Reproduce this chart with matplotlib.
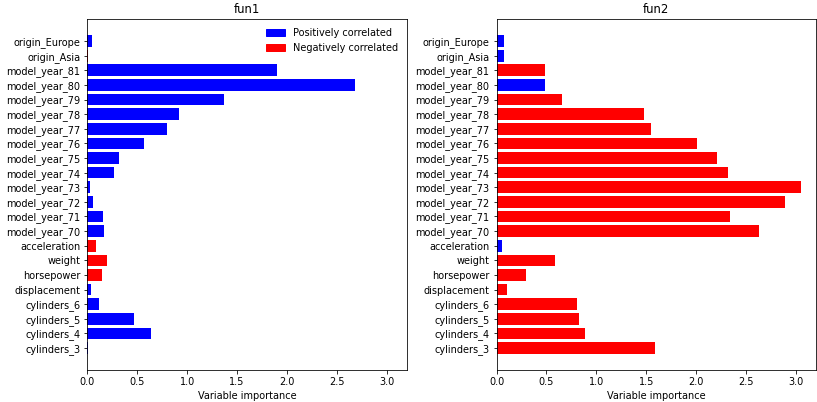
# Variable importance, two models side by side
import matplotlib
matplotlib.use('Agg')
import matplotlib.pyplot as plt
from matplotlib.patches import Patch

plt.rcParams['font.size'] = 9.7

features = ['cylinders_3', 'cylinders_4', 'cylinders_5', 'cylinders_6',
            'displacement', 'horsepower', 'weight', 'acceleration',
            'model_year_70', 'model_year_71', 'model_year_72', 'model_year_73',
            'model_year_74', 'model_year_75', 'model_year_76', 'model_year_77',
            'model_year_78', 'model_year_79', 'model_year_80', 'model_year_81',
            'origin_Asia', 'origin_Europe']

# fun1
imp1 = [0.003, 0.637, 0.467, 0.117, 0.037, 0.147, 0.20, 0.087,
        0.167, 0.157, 0.057, 0.027, 0.267, 0.317, 0.568, 0.795,
        0.92, 1.37, 2.68, 1.90, 0.004, 0.044]
pos1 = [1, 1, 1, 1, 1, 0, 0, 0,
        1, 1, 1, 1, 1, 1, 1, 1,
        1, 1, 1, 1, 0, 1]

# fun2
imp2 = [1.59, 0.888, 0.828, 0.808, 0.107, 0.297, 0.588, 0.057,
        2.63, 2.34, 2.89, 3.05, 2.32, 2.21, 2.01, 1.55,
        1.48, 0.658, 0.488, 0.488, 0.077, 0.077]
pos2 = [0, 0, 0, 0, 0, 0, 0, 1,
        0, 0, 0, 0, 0, 0, 0, 0,
        0, 0, 1, 0, 1, 1]

fig, axes = plt.subplots(1, 2, figsize=(817/72, 402/72), dpi=72, sharex=True)
fig.subplots_adjust(left=0.107, right=0.999, top=0.952, bottom=0.08, wspace=0.28)

for ax, imp, pos, title in [(axes[0], imp1, pos1, 'fun1'), (axes[1], imp2, pos2, 'fun2')]:
    colors = ['blue' if p else 'red' for p in pos]
    ax.barh(features, imp, color=colors)
    ax.set_title(title)
    ax.set_xlabel('Variable importance')

axes[0].set_xticks([0, 0.5, 1.0, 1.5, 2.0, 2.5, 3.0])
handles = [Patch(color='blue', label='Positively correlated'),
           Patch(color='red', label='Negatively correlated')]
axes[0].legend(handles=handles, loc='upper right', frameon=False)

plt.savefig('out.png', dpi=72)
